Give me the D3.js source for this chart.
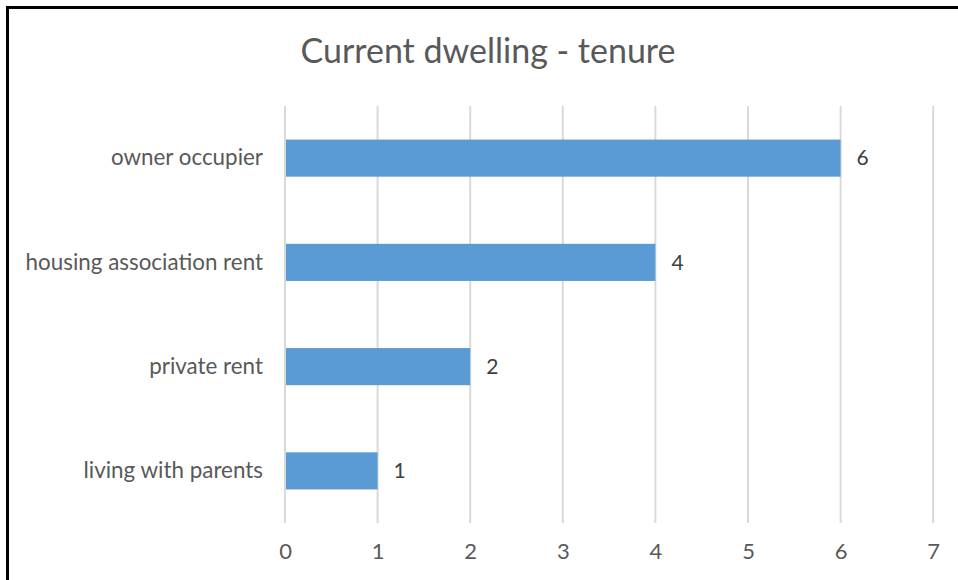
<!DOCTYPE html>
<html>
<head>
<meta charset="utf-8">
<script src="https://cdn.jsdelivr.net/npm/d3@7"></script>
<style>
  body { margin: 0; background: #fff; }
  svg { display: block; }
</style>
</head>
<body>
<div id="chart"></div>
<script>
const categories = ["owner occupier", "housing association rent", "private rent", "living with parents"];
const values = [6, 4, 2, 1];
const xTicks = [0, 1, 2, 3, 4, 5, 6, 7];

const width = 958, height = 580;
const margin = { top: 106, right: 25, bottom: 57, left: 285 };
const font = "Lato, 'Open Sans', sans-serif";

const svg = d3.select("#chart").append("svg")
    .attr("width", width)
    .attr("height", height);

// frame (only left and top edges show in the picture)
svg.append("path")
    .attr("d", `M7.5,${height} L7.5,7.5 L${width},7.5`)
    .attr("fill", "none")
    .attr("stroke", "#000")
    .attr("stroke-width", 3);

const x = d3.scaleLinear()
    .domain([0, 7])
    .range([margin.left, margin.left + 92.6 * 7]);

const y = d3.scaleBand()
    .domain(categories)
    .range([margin.top, height - margin.bottom])
    .paddingInner(0.644)
    .paddingOuter(0.322);

// grid lines
svg.append("g")
    .selectAll("line")
    .data(xTicks)
    .enter().append("line")
    .attr("x1", d => x(d))
    .attr("x2", d => x(d))
    .attr("y1", margin.top)
    .attr("y2", height - margin.bottom)
    .attr("stroke", "#d9d9d9")
    .attr("stroke-width", 2);

// bars
svg.selectAll("rect.bar")
    .data(values)
    .enter().append("rect")
    .attr("class", "bar")
    .attr("x", x(0) + 1)
    .attr("y", (d, i) => y(categories[i]))
    .attr("width", d => x(d) - x(0) - 1)
    .attr("height", y.bandwidth())
    .attr("fill", "#5b9bd5");

// value labels
svg.selectAll("text.val")
    .data(values)
    .enter().append("text")
    .attr("class", "val")
    .attr("x", d => x(d) + 16)
    .attr("y", (d, i) => y(categories[i]) + y.bandwidth() / 2)
    .attr("dy", "0.35em")
    .style("font-family", font)
    .style("font-size", "21px")
    .attr("fill", "#404040")
    .text(d => d);

// category axis
const yAxis = d3.axisLeft(y).tickSize(0).tickPadding(22);
const gy = svg.append("g")
    .attr("transform", `translate(${margin.left},0)`)
    .call(yAxis);
gy.select(".domain").remove();
gy.selectAll("text")
    .style("font-family", font)
    .style("font-size", "22.4px")
    .attr("fill", "#595959");

// value axis
const xAxis = d3.axisBottom(x).tickValues(xTicks).tickFormat(d3.format("d")).tickSize(0).tickPadding(20);
const gx = svg.append("g")
    .attr("transform", `translate(0,${height - margin.bottom})`)
    .call(xAxis);
gx.select(".domain").remove();
gx.selectAll("text")
    .style("font-family", font)
    .style("font-size", "22px")
    .attr("fill", "#595959");

// title
svg.append("text")
    .attr("x", 488)
    .attr("y", 63)
    .attr("text-anchor", "middle")
    .style("font-family", font)
    .style("font-size", "34px")
    .attr("fill", "#595959")
    .text("Current dwelling - tenure");
</script>
</body>
</html>
